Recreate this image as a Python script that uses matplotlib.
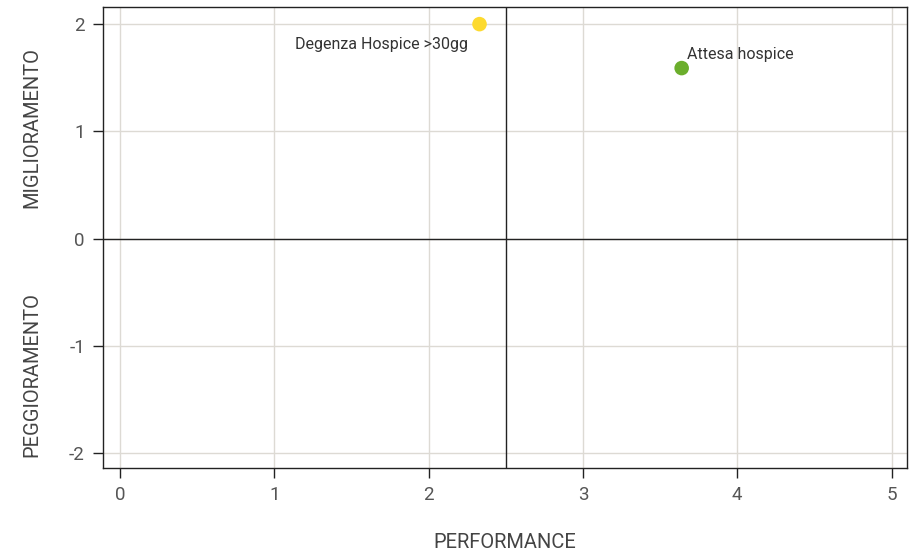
import matplotlib
matplotlib.use('agg')
import matplotlib.pyplot as plt

plt.rcParams['font.family'] = ['Roboto', 'DejaVu Sans']
plt.rcParams['axes.unicode_minus'] = False

# Data
labels = ['Degenza Hospice >30gg', 'Attesa hospice']
performance = [2.33, 3.64]
miglioramento = [2.0, 1.59]
colors = ['#FDDA2F', '#6BAE2C']
label_offsets = [(-12, -20), (5, 14)]
label_ha = ['right', 'left']

x_ticks = [0, 1, 2, 3, 4, 5]
y_ticks = [-2, -1, 0, 1, 2]

fig = plt.figure(figsize=(9.13, 5.58), dpi=100)
ax = fig.add_axes([0.1128, 0.1613, 0.8806, 0.8262])

ax.set_xlim(-0.11, 5.1)
ax.set_ylim(-2.14, 2.16)
ax.set_xticks(x_ticks)
ax.set_yticks(y_ticks)
ax.grid(True, color='#DDDAD4', linewidth=1)
ax.set_axisbelow(True)

# quadrant lines
ax.axvline(2.5, color='#222222', linewidth=1)
ax.axhline(0, color='#222222', linewidth=1)

ax.scatter(performance, miglioramento, s=110, c=colors, zorder=3, linewidths=0)
for lab, x, y, off, ha in zip(labels, performance, miglioramento, label_offsets, label_ha):
    ax.annotate(lab, (x, y), xytext=off, textcoords='offset pixels',
                ha=ha, va='center', fontsize=11.5, color='#333333')

for s in ax.spines.values():
    s.set_color('#222222')
    s.set_linewidth(1)
ax.tick_params(length=7, width=1, color='#222222', labelsize=13.5, labelcolor='#555555', pad=6)

ax.set_xlabel('PERFORMANCE', fontsize=14.5, color='#444444', labelpad=21)
fig.text(0.035, (558 - 128) / 558, 'MIGLIORAMENTO', rotation=90, ha='center', va='center',
         fontsize=14.5, color='#444444')
fig.text(0.035, (558 - 375) / 558, 'PEGGIORAMENTO', rotation=90, ha='center', va='center',
         fontsize=14.5, color='#444444')

fig.savefig('out.png', dpi=100)
